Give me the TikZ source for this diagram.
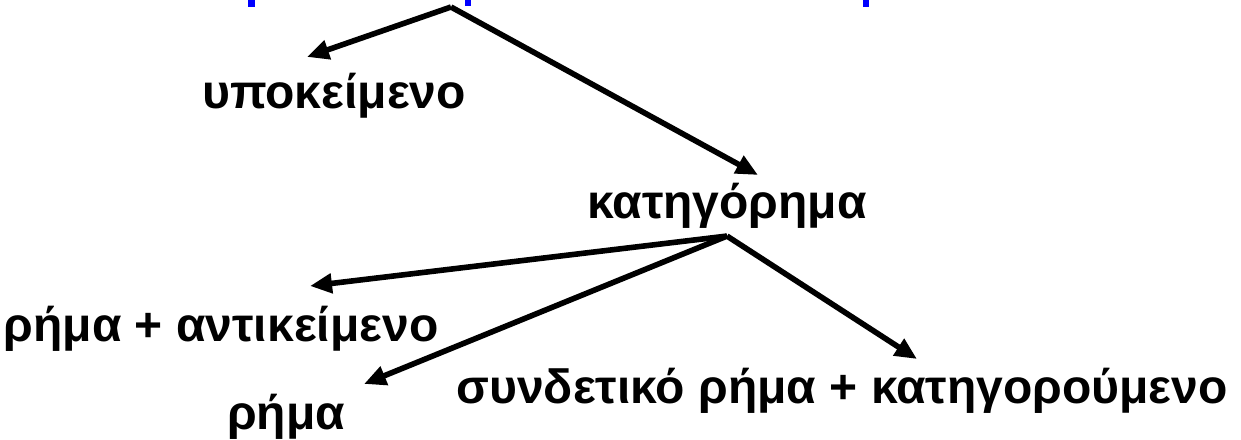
\documentclass[tikz,border=0pt]{standalone}
\usepackage{fontspec}
\setmainfont{Liberation Sans}
\usetikzlibrary{arrows.meta,calc}
\definecolor{titleBlue}{RGB}{0,0,255}

\begin{document}
\begin{tikzpicture}[x=0.5pt,y=-0.5pt,
  word/.style={font=\bfseries\fontsize{24}{28}\selectfont, inner sep=0pt},
  arr/.style={line width=2.8pt, -{Triangle[length=11pt,width=9.5pt]}}]
  \useasboundingbox (0,0) rectangle (1241,439);
  % blue title, cut off at the top edge
  \fill[titleBlue] (248,0) rectangle (255,7);
  \fill[titleBlue] (465,0) rectangle (471,6);
  \fill[titleBlue] (863,0) rectangle (869,7);
  \coordinate (top) at (451,7);
  \node[word] (subj) at (334,96) {υποκείμενο};
  \node[word] (pred) at (727,206) {κατηγόρημα};
  \node[word] (verbobj) at (221,329) {ρήμα + αντικείμενο};
  \node[word] (verb) at (286,417) {ρήμα};
  \node[word] (copula) at (842,391) {συνδετικό ρήμα + κατηγορούμενο};
  \draw[arr] (top) -- ($(subj)+(-27,-39)$);
  \draw[arr] (top) -- ($(pred)+(31,-31)$);
  \draw[arr] ($(pred.south)+(0,7)$) -- ($(verbobj)+(89,-43)$);
  \draw[arr] ($(pred.south)+(0,7)$) -- ($(verb)+(78,-33)$);
  \draw[arr] ($(pred.south)+(0,7)$) -- ($(copula)+(75,-32)$);
\end{tikzpicture}
\end{document}
